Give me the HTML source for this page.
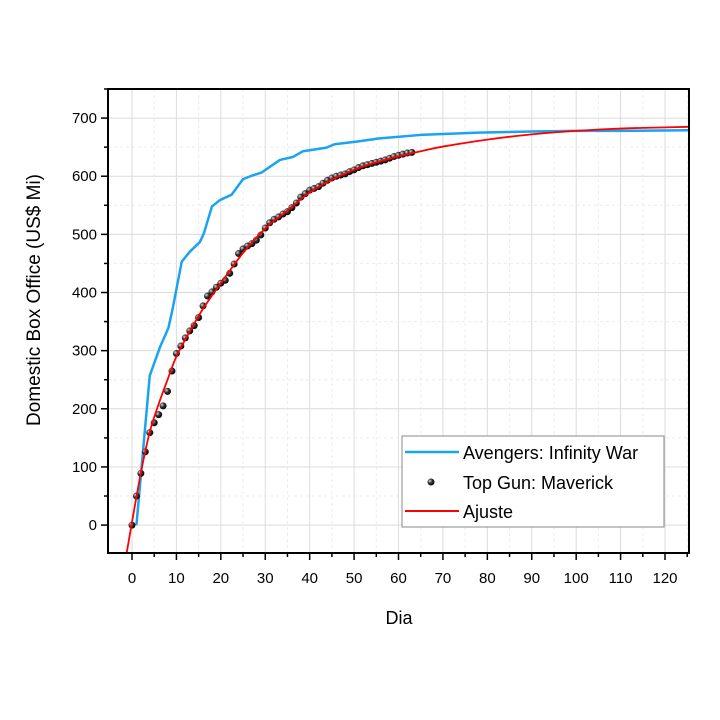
<!DOCTYPE html>
<html><head><meta charset="utf-8"><style>
body{margin:0;background:#fff}
svg{display:block;font-family:"Liberation Sans",sans-serif}
</style></head><body>
<svg id="chart" width="720" height="720" viewBox="0 0 720 720">
<defs>
<radialGradient id="ball" cx="0.35" cy="0.35" r="0.7">
<stop offset="0" stop-color="#ddd"/><stop offset="0.45" stop-color="#333"/><stop offset="1" stop-color="#000"/>
</radialGradient>
</defs>
<g id="grid"></g>
<g id="series"></g>
<g id="axes"></g>
<text x="40" y="300" transform="rotate(-90 40 300)" text-anchor="middle" font-size="19" fill="#000">Domestic Box Office (US$ Mi)</text>
<text x="399" y="624" text-anchor="middle" font-size="18" fill="#000">Dia</text>
<g>
<rect x="402" y="436" width="262" height="91" fill="#fff" stroke="#888" stroke-width="1"/>
<line x1="405" y1="452" x2="459" y2="452" stroke="#1aa3f0" stroke-width="2.5"/>
<text x="463" y="459" font-size="18" fill="#000">Avengers: Infinity War</text>
<circle cx="431" cy="482" r="3.5" fill="url(#ball)"/>
<text x="463" y="489" font-size="18" fill="#000">Top Gun: Maverick</text>
<line x1="405" y1="511" x2="459" y2="511" stroke="#f00" stroke-width="2"/>
<text x="463" y="518" font-size="18" fill="#000">Ajuste</text>
</g>
</svg>
<script>
const avengersDays=[1,4,6.3,8.2,9.1,11.2,13,15.3,16.2,18,19.8,22.4,25,27,29.1,33.3,36.2,38.5,43.7,45.6,51,55.7,65,78,90,100,110,125.4];
const avengersVals=[0,257,306,339,370,453,470,487,502,548,559,568,595,601,606,628,633,643,649,655,660,665,671,675,677,678,678,679];
const topgunVals=[0,50,89,126,159,176,190,205,230,265,295,308,322,334,343,357,377,394,401,409,416,421,433,449,467,475,480,484,490,499,511,520,526,530,535,539,546,554,564,570,576,579,582,588,593,597,600,602,604,608,611,615,618,620,622,624,626,628,631,634,636,638,640,641];
const fitDays=[-1.2,0,2,4,6,8,10,13,16,20,25,30,35,40,45,50,55,60,65,70,80,90,100,110,120,125.4];
const fitVals=[-58,5,90,160,208,250,290,333,372,416,468,510,541,572,594,611,624,634,643,651,663,672,678,682,684,685];
const xTicks=[0,10,20,30,40,50,60,70,80,90,100,110,120];
const yTicks=[0,100,200,300,400,500,600,700];

const L=108,R=689,T=89,B=553,XMIN=-5.4,XMAX=125.4,YMIN=-48,YMAX=750;
const X=d=>L+(d-XMIN)/(XMAX-XMIN)*(R-L);
const Y=v=>B-(v-YMIN)/(YMAX-YMIN)*(B-T);
const NS="http://www.w3.org/2000/svg";
function mk(tag,attrs,parent){const e=document.createElementNS(NS,tag);for(const k in attrs)e.setAttribute(k,attrs[k]);parent.appendChild(e);return e;}
const grid=document.getElementById('grid'),ser=document.getElementById('series'),ax=document.getElementById('axes');
for(let d=0;d<=125;d+=5){const major=d%10===0;
 const g=mk('line',{x1:X(d),x2:X(d),y1:T,y2:B,stroke:major?'#dcdcdc':'#ececec','stroke-width':1,'stroke-dasharray':major?'':'3,3'},grid);
 
 
 const t=mk('line',{x1:X(d),x2:X(d),y1:B,y2:B+(major?7:4),stroke:'#000','stroke-width':1.5},ax);
 
 }
for(let v=-50;v<=750;v+=50){if(v<YMIN)continue;const major=v%100===0;
 const g=mk('line',{x1:L,x2:R,y1:Y(v),y2:Y(v),stroke:major?'#dcdcdc':'#ececec','stroke-width':1,'stroke-dasharray':major?'':'3,3'},grid);
 
 
 const t=mk('line',{x1:L-(major?7:4),x2:L,y1:Y(v),y2:Y(v),stroke:'#000','stroke-width':1.5},ax);
 
 }
xTicks.forEach(d=>{const t=mk('text',{x:X(d),y:B+30,'text-anchor':'middle','font-size':15,fill:'#000'},ax);t.textContent=d;
 
 });
yTicks.forEach(v=>{const t=mk('text',{x:L-11,y:Y(v)+5,'text-anchor':'end','font-size':15,fill:'#000'},ax);t.textContent=v;
 
 });
const frame=mk('rect',{x:L,y:T,width:R-L,height:B-T,fill:'none',stroke:'#000','stroke-width':2},ax);


function spline(pts){let d='M'+pts[0][0]+','+pts[0][1];for(let i=0;i<pts.length-1;i++){const p0=pts[Math.max(0,i-1)],p1=pts[i],p2=pts[i+1],p3=pts[Math.min(pts.length-1,i+2)];
 const c1=[p1[0]+(p2[0]-p0[0])/6,p1[1]+(p2[1]-p0[1])/6],c2=[p2[0]-(p3[0]-p1[0])/6,p2[1]-(p3[1]-p1[1])/6];
 d+=` C${c1[0]},${c1[1]} ${c2[0]},${c2[1]} ${p2[0]},${p2[1]}`;}return d;}
const av=mk('polyline',{points:avengersDays.map((d,i)=>X(d)+','+Y(avengersVals[i])).join(' '),fill:'none',stroke:'#1aa3f0','stroke-width':2.5,'stroke-linejoin':'round'},ser);


topgunVals.forEach((v,i)=>{const c=mk('circle',{cx:X(i),cy:Y(v),r:3.5,fill:'url(#ball)'},ser);
 
 });
const fit=mk('path',{d:spline(fitDays.map((d,i)=>[X(d),Y(Math.max(fitVals[i],YMIN))])),fill:'none',stroke:'#f00','stroke-width':1.8},ser);


</script>
</body></html>
